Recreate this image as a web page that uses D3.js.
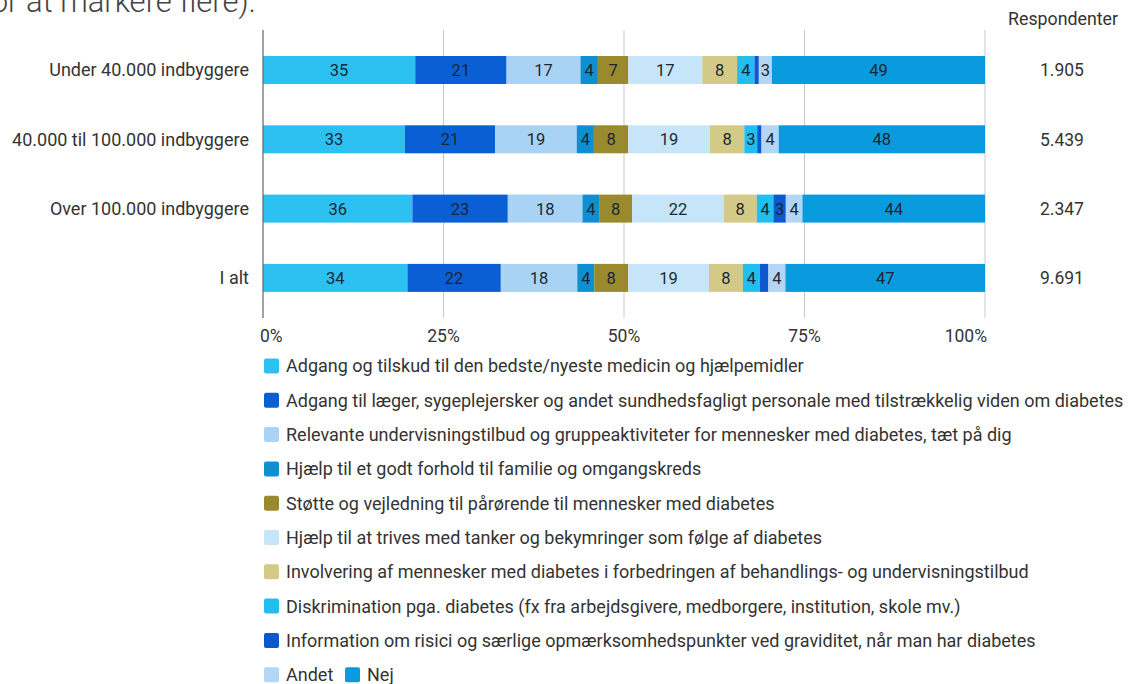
<!DOCTYPE html>
<html>
<head>
<meta charset="utf-8">
<script src="https://cdn.jsdelivr.net/npm/d3@7/dist/d3.min.js"></script>
<style>
  html, body { margin: 0; padding: 0; background: #fff; overflow: hidden; }
  svg { display: block; font-family: Roboto, "Noto Sans", sans-serif; }
</style>
</head>
<body>
<svg id="chart" width="1135" height="684"></svg>
<script>
// Groups (rows) and number of respondents per group
const groups = ["Under 40.000 indbyggere", "40.000 til 100.000 indbyggere", "Over 100.000 indbyggere", "I alt"];
const respondents = ["1.905", "5.439", "2.347", "9.691"];

// Answer options (several could be chosen, so each row is normalised to 100%)
const answers = [
  "Adgang og tilskud til den bedste/nyeste medicin og hjælpemidler",
  "Adgang til læger, sygeplejersker og andet sundhedsfagligt personale med tilstrækkelig viden om diabetes",
  "Relevante undervisningstilbud og gruppeaktiviteter for mennesker med diabetes, tæt på dig",
  "Hjælp til et godt forhold til familie og omgangskreds",
  "Støtte og vejledning til pårørende til mennesker med diabetes",
  "Hjælp til at trives med tanker og bekymringer som følge af diabetes",
  "Involvering af mennesker med diabetes i forbedringen af behandlings- og undervisningstilbud",
  "Diskrimination pga. diabetes (fx fra arbejdsgivere, medborgere, institution, skole mv.)",
  "Information om risici og særlige opmærksomhedspunkter ved graviditet, når man har diabetes",
  "Andet",
  "Nej"
];
const colors = ["#2cc1f0", "#0b5fd5", "#a9d3f4", "#0e8fd2", "#9a8a2e", "#c6e5f9",
                "#d4ca88", "#22bef0", "#0b58cf", "#b3d6f4", "#0a9ade"];

// Percent answering each option, per group (same order as answers)
const underForty   = [35, 21, 17, 4, 7, 17, 8, 4, 1, 3, 49];
const fortyToHundr = [33, 21, 19, 4, 8, 19, 8, 3, 1, 4, 48];
const overHundred  = [36, 23, 18, 4, 8, 22, 8, 4, 3, 4, 44];
const allGroups    = [34, 22, 18, 4, 8, 19, 8, 4, 2, 4, 47];
const seriesByGroup = [underForty, fortyToHundr, overHundred, allGroups];

const tickValues = [0, 0.25, 0.5, 0.75, 1];
const tickLabels = ["0%", "25%", "50%", "75%", "100%"];

const rows = groups.map((g, i) => {
  const r = { group: g };
  answers.forEach((a, j) => r[a] = seriesByGroup[i][j]);
  return r;
});

const svg = d3.select("#chart");
const textColor = "#333";

const x = d3.scaleLinear().domain([0, 1]).range([263, 985]);
const y = d3.scaleBand().domain(groups).range([14.7, 333.2]).paddingInner(0.596).paddingOuter(0.596);
const color = d3.scaleOrdinal().domain(answers).range(colors);

// Heading line, partly above the visible area
svg.append("text")
  .attr("x", 256).attr("y", 12)
  .attr("text-anchor", "end")
  .attr("font-size", 31).attr("font-weight", 300)
  .attr("fill", "#444")
  .text("for at markere flere).");

// Grid lines
svg.append("g").selectAll("line")
  .data(tickValues.slice(1))
  .join("line")
  .attr("x1", d => x(d)).attr("x2", d => x(d))
  .attr("y1", 30).attr("y2", 318)
  .attr("stroke", "#c8c8c8").attr("stroke-width", 1);

const stack = d3.stack().keys(answers).offset(d3.stackOffsetExpand);
const stacked = stack(rows);

const layer = svg.append("g").selectAll("g")
  .data(stacked)
  .join("g")
  .attr("fill", d => color(d.key));

layer.selectAll("rect")
  .data(d => d.map(v => ({ v, key: d.key })))
  .join("rect")
  .attr("x", d => x(d.v[0]))
  .attr("width", d => x(d.v[1]) - x(d.v[0]))
  .attr("y", d => y(d.v.data.group))
  .attr("height", y.bandwidth());

// Value labels inside segments
svg.append("g").selectAll("g")
  .data(stacked)
  .join("g")
  .selectAll("text")
  .data(d => d.map(v => ({ v, key: d.key })))
  .join("text")
  .filter(d => (x(d.v[1]) - x(d.v[0])) > 9)
  .attr("x", d => (x(d.v[0]) + x(d.v[1])) / 2)
  .attr("y", d => y(d.v.data.group) + y.bandwidth() / 2)
  .attr("dy", "0.36em")
  .attr("text-anchor", "middle")
  .attr("font-size", 16.5)
  .attr("fill", "#1d2733")
  .text(d => d.v.data[d.key]);

// Left axis line
svg.append("line")
  .attr("x1", x(0)).attr("x2", x(0))
  .attr("y1", 30).attr("y2", 318)
  .attr("stroke", "#666").attr("stroke-width", 1.2);

// Category labels
svg.append("g").selectAll("text")
  .data(groups)
  .join("text")
  .attr("x", 249)
  .attr("y", d => y(d) + y.bandwidth() / 2)
  .attr("dy", "0.36em")
  .attr("text-anchor", "end")
  .attr("font-size", 18)
  .attr("fill", textColor)
  .text(d => d);

// Respondent counts
svg.append("text")
  .attr("x", 1008).attr("y", 25)
  .attr("font-size", 17.8)
  .attr("fill", textColor)
  .text("Respondenter");
svg.append("g").selectAll("text")
  .data(groups)
  .join("text")
  .attr("x", 1040)
  .attr("y", (d, i) => y(d) + y.bandwidth() / 2)
  .attr("dy", "0.36em")
  .attr("font-size", 17.5)
  .attr("fill", textColor)
  .text((d, i) => respondents[i]);

// X axis tick labels
svg.append("g").selectAll("text")
  .data(tickValues)
  .join("text")
  .attr("x", (d, i) => i === 0 ? x(d) - 3 : i === tickValues.length - 1 ? x(d) + 2 : x(d))
  .attr("y", 342)
  .attr("text-anchor", (d, i) => i === 0 ? "start" : i === tickValues.length - 1 ? "end" : "middle")
  .attr("font-size", 17.5)
  .attr("fill", textColor)
  .text((d, i) => tickLabels[i]);

// Legend
const legend = svg.append("g");
const legendTop = 366, legendStep = 34.3;
answers.forEach((a, i) => {
  let lx, ly;
  if (i < 10) { lx = 264; ly = legendTop + i * legendStep; }
  else { lx = 345; ly = legendTop + 9 * legendStep; }
  const item = legend.append("g").attr("transform", `translate(${lx},${ly})`);
  item.append("rect")
    .attr("x", 0).attr("y", -7.5)
    .attr("width", 15).attr("height", 15)
    .attr("rx", 2)
    .attr("fill", color(a));
  item.append("text")
    .attr("x", 22).attr("y", 0)
    .attr("dy", "0.36em")
    .attr("font-size", 18)
    .attr("fill", textColor)
    .text(a);
});
</script>
</body>
</html>
